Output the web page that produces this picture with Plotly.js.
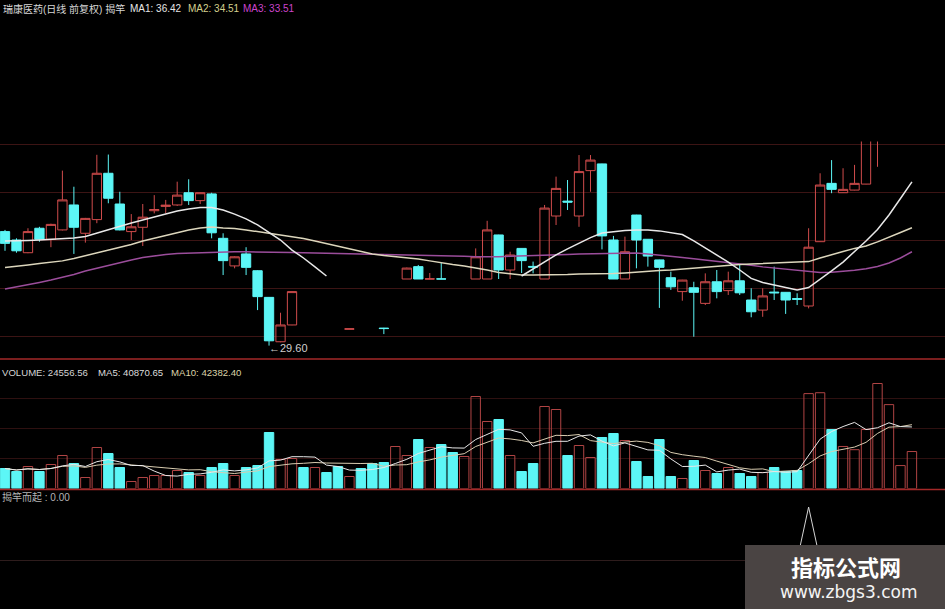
<!DOCTYPE html>
<html>
<head>
<meta charset="utf-8">
<script src="https://cdn.plot.ly/plotly-3.0.1.min.js"></script>
<style>
  html, body { margin: 0; padding: 0; background: #000; }
  #chart { width: 945px; height: 609px; }
</style>
</head>
<body>
<div id="chart"></div>
<script>
// Daily bars, index 0 = oldest. null = no bar drawn in the price pane.
const open = [
  34.35, 34.00, 33.47, 34.49, 34.03, 34.42, 35.46, 34.28, 34.85, 36.78,
  35.50, 34.35, 34.53, 35.22, 35.40, 35.46, 35.97, 35.64, 35.92, 34.07,
  32.92, 33.42, 32.72, 31.61, 29.76, 30.46, null, null, null, null,
  30.28, null, null, 30.33, null, 32.375, 32.89, 32.375, 32.38, null,
  null, 32.375, 32.375, 34.21, 32.75, 33.65, 32.90, 32.375, 35.00, 35.62,
  35.00, 36.89, 37.17, 34.00, 32.375, 35.04, 34.03, 33.17, 32.43, 31.85,
  32.01, 31.36, 32.26, 31.89, 32.30, 31.50, 31.08, 31.83, 31.82, 31.56,
  31.25, 33.93, 36.36, 35.97, 36.08, 36.33, 38.50, null, null, null
];
const high = [
  34.42, 34.07, 34.49, 34.55, 34.68, 36.89, 36.22, 34.92, 37.55, 37.56,
  36.01, 35.08, 35.50, 35.87, 35.67, 36.43, 36.53, 35.98, 35.97, 34.28,
  33.32, 33.70, 32.74, 31.62, 30.97, 31.86, null, null, null, null,
  30.30, null, null, 30.34, null, 32.85, 32.96, 32.625, 33.04, null,
  null, 33.65, 34.80, 34.22, 33.51, 33.66, 33.10, 35.46, 36.64, 36.50,
  37.54, 37.54, 37.18, 34.17, 34.14, 35.05, 34.04, 33.18, 32.68, 32.34,
  32.26, 32.61, 32.75, 32.68, 32.96, 31.99, 31.99, 32.89, 31.83, 31.78,
  34.49, 36.78, 37.33, 36.99, 37.13, 38.90, 39.70, null, null, null
];
const low = [
  33.55, 33.47, 33.45, 33.93, 33.70, 34.40, 33.42, 33.89, 34.70, 35.53,
  34.40, 34.00, 33.75, 35.11, 35.11, 35.42, 35.46, 35.50, 34.07, 32.54,
  32.82, 32.54, 31.08, 29.60, 29.74, 30.45, null, null, null, null,
  30.28, null, null, 30.08, null, 32.375, 32.375, 32.375, 32.375, null,
  null, 32.375, 32.375, 32.375, 32.375, 32.625, 32.61, 32.375, 34.625, 35.25,
  34.55, 36.01, 33.61, 32.375, 32.375, 32.82, 32.89, 31.17, 31.92, 31.47,
  29.97, 31.29, 31.57, 31.71, 31.71, 30.78, 30.80, 31.50, 30.92, 31.29,
  31.15, 33.92, 35.95, 35.96, 36.07, 36.32, 37.05, null, null, null
];
const close = [
  33.86, 33.55, 34.35, 34.03, 34.65, 35.67, 34.53, 34.90, 36.78, 35.74,
  34.42, 34.55, 34.95, 35.27, 35.45, 35.87, 35.64, 35.97, 34.30, 33.14,
  33.30, 32.86, 31.64, 29.80, 30.46, 31.85, null, null, null, null,
  30.30, null, null, 30.31, null, 32.83, 32.375, 32.38, 32.375, null,
  null, 33.30, 34.42, 32.75, 33.375, 33.14, 32.87, 35.33, 36.15, 35.58,
  36.85, 37.33, 34.17, 32.375, 33.51, 34.00, 33.33, 32.86, 32.05, 32.33,
  31.82, 32.26, 31.85, 32.30, 31.80, 31.01, 31.67, 31.80, 31.50, 31.53,
  33.70, 36.29, 36.11, 36.11, 36.36, 38.60, 39.40, null, null, null
];
// 1 = up day (red), 0 = down day (cyan)
const upDay = [
  0, 0, 1, 0, 1, 1, 0, 1, 1, 0,
  0, 1, 1, 1, 1, 1, 0, 1, 0, 0,
  1, 0, 0, 0, 1, 1, 0, 1, 0, 0,
  1, 0, 0, 0, 1, 1, 0, 1, 0, 0,
  1, 1, 1, 0, 1, 0, 0, 1, 1, 0,
  1, 1, 0, 0, 1, 0, 0, 0, 0, 1,
  0, 1, 0, 1, 0, 0, 1, 0, 0, 0,
  1, 1, 0, 1, 1, 1, 1, 1, 1, 1
];
const volume = [
  13280, 11290, 14610, 11290, 15940, 21910, 16600, 7300, 27220, 23240,
  13940, 4650, 7300, 8630, 8630, 11950, 10620, 8630, 13940, 16600,
  8630, 13940, 15270, 37180, 19260, 19920, 13940, 13940, 10620, 14610,
  7970, 13280, 16600, 17260, 27890, 21910, 32540, 27220, 29220, 23900,
  21250, 61090, 44490, 45820, 21910, 11290, 16600, 54450, 52460, 21910,
  28550, 20580, 33860, 36520, 31870, 17930, 7970, 32540, 7970, 6640,
  18590, 11950, 9960, 13940, 9960, 7970, 10620, 13940, 11290, 11950,
  63000, 63600, 39200, 27900, 25770.75, 39150, 69720, 55700, 15226.69, 24556.56
];
// price moving averages
const ma1 = [
  33.96, 33.96, 33.98, 34.00, 34.02, 34.04, 34.08, 34.15, 34.29, 34.46,
  34.58, 34.71, 34.83, 34.96, 35.08, 35.21, 35.29, 35.35, 35.35, 35.25,
  35.08, 34.88, 34.63, 34.33, 34.00, 33.58, 33.25, 32.88, 32.50, null,
  null, null, null, null, null, null, null, null, null, null,
  null, null, null, null, null, 32.50, 32.79, 33.08, 33.38, 33.63,
  33.88, 34.10, 34.29, 34.35, 34.40, 34.42, 34.42, 34.38, 34.31, 34.23,
  33.96, 33.67, 33.38, 33.08, 32.75, 32.40, 32.23, 32.13, 32.02, 31.92,
  32.02, 32.35, 32.71, 33.08, 33.50, 33.96, 34.44, 35.04, 35.73, 36.42
];
const ma2 = [
  32.85, 32.92, 32.96, 33.02, 33.06, 33.13, 33.23, 33.35, 33.44, 33.56,
  33.69, 33.81, 33.96, 34.08, 34.21, 34.31, 34.42, 34.50, 34.54, 34.50,
  34.48, 34.42, 34.35, 34.29, 34.23, 34.15, 34.06, 33.96, 33.85, 33.77,
  33.65, 33.54, 33.42, 33.35, 33.31, 33.27, 33.21, 33.13, 33.04, 32.98,
  32.92, 32.85, 32.75, 32.65, 32.58, 32.54, 32.54, 32.54, 32.56, 32.56,
  32.58, 32.58, 32.60, 32.60, 32.63, 32.67, 32.69, 32.73, 32.75, 32.79,
  32.83, 32.88, 32.92, 32.96, 32.98, 33.00, 33.02, 33.04, 33.04, 33.06,
  33.10, 33.25, 33.40, 33.52, 33.65, 33.75, 33.92, 34.10, 34.31, 34.51
];
const ma3 = [
  31.96, 32.04, 32.13, 32.23, 32.33, 32.44, 32.56, 32.71, 32.83, 32.96,
  33.06, 33.17, 33.27, 33.35, 33.40, 33.44, 33.46, 33.48, 33.50, 33.50,
  33.51, 33.51, 33.51, 33.50, 33.49, 33.48, 33.47, 33.46, 33.45, 33.44,
  33.43, 33.43, 33.42, 33.41, 33.40, 33.39, 33.38, 33.38, 33.36, 33.34,
  33.32, 33.30, 33.29, 33.30, 33.32, 33.33, 33.35, 33.37, 33.38, 33.40,
  33.42, 33.43, 33.45, 33.47, 33.48, 33.46, 33.42, 33.38, 33.33, 33.27,
  33.22, 33.17, 33.11, 33.06, 33.00, 32.95, 32.88, 32.83, 32.77, 32.72,
  32.68, 32.65, 32.66, 32.69, 32.74, 32.80, 32.90, 33.04, 33.25, 33.51
];
// 揭竿而起 signal
const signal = [
  0, 0, 0, 0, 0, 0, 0, 0, 0, 0,
  0, 0, 0, 0, 0, 0, 0, 0, 0, 0,
  0, 0, 0, 0, 0, 0, 0, 0, 0, 0,
  0, 0, 0, 0, 0, 0, 0, 0, 0, 0,
  0, 0, 0, 0, 0, 0, 0, 0, 0, 0,
  0, 0, 0, 0, 0, 0, 0, 0, 0, 0,
  0, 0, 0, 0, 0, 0, 0, 0, 0, 0,
  1, 0, 0, 0, 0, 0, 0, 0, 0, 0
];

const W = 945, H = 609;
const px = v => v / W;
const py = v => 1 - v / H;

const RED = '#d04c4c', VRED = '#b04444', CYAN = '#5cf6f6';
const days = volume.map((_, i) => i);

function movingAvg(arr, n) {
  return arr.map((_, i) => {
    const s = arr.slice(Math.max(0, i - n + 1), i + 1);
    return s.reduce((a, b) => a + b, 0) / s.length;
  });
}
const volMa5 = movingAvg(volume, 5);
const volMa10 = movingAvg(volume, 10);
const last = a => a[a.length - 1];

// lowest visible low, marked with an arrow label
let lowIdx = 0;
low.forEach((v, i) => { if (v !== null && v < low[lowIdx]) lowIdx = i; });

// bright part of the signal line: the trigger and its neighbours
const signalPeak = signal.map((v, i) =>
  (v || signal[i - 1] || signal[i + 1]) ? v : null);

const traces = [
  {
    type: 'candlestick', x: days, open: open, high: high, low: low, close: close,
    xaxis: 'x', yaxis: 'y', whiskerwidth: 0, hoverinfo: 'skip',
    increasing: { line: { color: RED, width: 1 }, fillcolor: 'rgba(0,0,0,0)' },
    decreasing: { line: { color: CYAN, width: 1 }, fillcolor: CYAN }
  },
  { type: 'scatter', mode: 'lines', x: days, y: ma3, xaxis: 'x', yaxis: 'y',
    line: { color: '#9b4d9b', width: 1.5 }, hoverinfo: 'skip' },
  { type: 'scatter', mode: 'lines', x: days, y: ma2, xaxis: 'x', yaxis: 'y',
    line: { color: '#dcd6bc', width: 1.5 }, hoverinfo: 'skip' },
  { type: 'scatter', mode: 'lines', x: days, y: ma1, xaxis: 'x', yaxis: 'y',
    connectgaps: false, line: { color: '#e8e8e8', width: 1.5 }, hoverinfo: 'skip' },
  {
    type: 'bar', x: days, y: volume, xaxis: 'x2', yaxis: 'y2', hoverinfo: 'skip',
    marker: {
      color: upDay.map(u => u ? 'rgba(0,0,0,0)' : CYAN),
      line: { color: upDay.map(u => u ? VRED : CYAN), width: 1 }
    }
  },
  { type: 'scatter', mode: 'lines', x: days, y: volMa10, xaxis: 'x2', yaxis: 'y2',
    line: { color: '#d8ccb0', width: 1 }, hoverinfo: 'skip' },
  { type: 'scatter', mode: 'lines', x: days, y: volMa5, xaxis: 'x2', yaxis: 'y2',
    line: { color: '#e8e8e8', width: 1 }, hoverinfo: 'skip' },
  { type: 'scatter', mode: 'lines', x: days, y: signalPeak, xaxis: 'x3', yaxis: 'y3',
    line: { color: '#d4d4d4', width: 1 }, hoverinfo: 'skip' }
];

const xr = [-0.4355, 81.88];
const xBase = { range: xr, showgrid: false, zeroline: false, showticklabels: false,
  showline: false, ticks: '', fixedrange: true };
const GRID = '#3c1414';

const FONT = "'Liberation Sans', 'Noto Sans CJK SC', sans-serif";
const txt = (x, y, text, color, size) => ({
  xref: 'paper', yref: 'paper', x: px(x), y: py(y), xanchor: 'left', yanchor: 'middle',
  text: text, showarrow: false, font: { family: FONT, size: size, color: color }
});

const annotations = [
  txt(1, 9, '瑞康医药(日线 前复权) 揭竿', '#d6d6d6', 10),
  txt(128, 9, 'MA1: ' + last(ma1).toFixed(2), '#e6e6e6', 10),
  txt(186, 9, 'MA2: ' + last(ma2).toFixed(2), '#d4d08e', 10),
  txt(241, 9, 'MA3: ' + last(ma3).toFixed(2), '#cc44cc', 10),
  txt(0, 372, 'VOLUME: ' + last(volume).toFixed(2), '#d4d4d4', 9.6),
  txt(96, 372, 'MA5: ' + last(volMa5).toFixed(2), '#dedede', 9.6),
  txt(169, 372, 'MA10: ' + last(volMa10).toFixed(2), '#dcd4a8', 9.6),
  txt(0, 497, '揭竿而起 : ' + last(signal).toFixed(2), '#b4b4b4', 10),
  {
    xref: 'x', yref: 'y', x: lowIdx, y: low[lowIdx], xanchor: 'left', yanchor: 'middle',
    xshift: -2, yshift: -2, showarrow: false, text: '←' + low[lowIdx].toFixed(2),
    font: { family: FONT, size: 11, color: '#cfcfcf' }
  },
  {
    xref: 'paper', yref: 'paper', x: px(846), y: py(566), xanchor: 'center', yanchor: 'middle',
    showarrow: false, text: '<b>指标公式网</b>',
    font: { family: "'Noto Sans CJK SC', sans-serif", size: 22, color: '#ffffff' }
  },
  {
    xref: 'paper', yref: 'paper', x: px(848), y: py(592), xanchor: 'center', yanchor: 'middle',
    showarrow: false, text: 'www.zbgs3.com',
    font: { family: "'DejaVu Sans', sans-serif", size: 17, color: '#f4f4f4' }
  }
];

const shapes = [
  { type: 'line', xref: 'paper', yref: 'paper', x0: 0, x1: 1, y0: py(359), y1: py(359),
    line: { color: '#a42828', width: 1.5 } },
  { type: 'line', xref: 'paper', yref: 'paper', x0: 0, x1: 1, y0: py(489.5), y1: py(489.5),
    line: { color: '#a42828', width: 1.5 } },
  { type: 'rect', xref: 'paper', yref: 'paper', x0: px(745), x1: 1, y0: 0, y1: py(545),
    fillcolor: '#4a4443', line: { width: 0 }, layer: 'above' }
];

const layout = {
  width: W, height: H,
  margin: { l: 0, r: 0, t: 0, b: 0, pad: 0 },
  paper_bgcolor: '#000', plot_bgcolor: '#000',
  showlegend: false, hovermode: false,
  bargap: 0.18, boxgap: 0.1, boxgroupgap: 0.1,
  xaxis: Object.assign({}, xBase, { anchor: 'y', rangeslider: { visible: false } }),
  xaxis2: Object.assign({}, xBase, { anchor: 'y2' }),
  xaxis3: Object.assign({}, xBase, { anchor: 'y3' }),
  yaxis: {
    domain: [py(358), py(141.5)], range: [29.0833, 38.1042],
    tickvals: [30, 32, 34, 36, 38], showticklabels: false, ticks: '',
    gridcolor: GRID, gridwidth: 1, zeroline: false, fixedrange: true
  },
  yaxis2: {
    domain: [py(488.5), py(362)], range: [0, 84000],
    tickvals: [20000, 40000, 60000], showticklabels: false, ticks: '',
    gridcolor: '#2e1010', gridwidth: 1, zeroline: false, fixedrange: true
  },
  yaxis3: {
    domain: [0, py(491)], range: [-0.9245, 1.302],
    showgrid: false, showticklabels: false, ticks: '',
    zeroline: true, zerolinecolor: '#2e1c1c', zerolinewidth: 1, fixedrange: true
  },
  annotations: annotations,
  shapes: shapes
};

Plotly.newPlot('chart', traces, layout, { staticPlot: true, displayModeBar: false });
</script>
</body>
</html>
